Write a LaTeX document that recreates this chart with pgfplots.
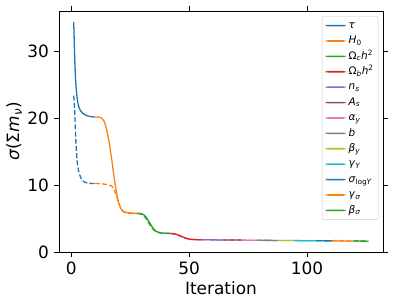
\documentclass[border=0pt]{standalone}
\usepackage{fontspec}
\setmainfont{DejaVu Sans}
\usepackage{pgfplots}
\pgfplotsset{compat=1.18}
\definecolor{C0}{HTML}{1F77B4}
\definecolor{C1}{HTML}{FF7F0E}
\definecolor{C2}{HTML}{2CA02C}
\definecolor{C3}{HTML}{D62728}
\definecolor{C4}{HTML}{9467BD}
\definecolor{C5}{HTML}{8C564B}
\definecolor{C6}{HTML}{E377C2}
\definecolor{C7}{HTML}{7F7F7F}
\definecolor{C8}{HTML}{BCBD22}
\definecolor{C9}{HTML}{17BECF}
\newcommand{\sub}[1]{\textsubscript{#1}}
\begin{document}
\begin{tikzpicture}
\begin{axis}[
  scale only axis, width=324bp, height=241bp,
  xmin=-5.25, xmax=132.25, ymin=0, ymax=36.06,
  xtick={0,50,100}, ytick={0,10,20,30},
  tick align=outside, major tick length=4.9bp,
  tick style={black, line width=0.8bp},
  axis line style={line width=0.8bp},
  /pgf/number format/assume math mode=true,
  tick label style={font=\fontsize{17}{20}\selectfont, inner sep=0pt},
  xticklabel style={yshift=-4.9bp},
  yticklabel style={xshift=-4.9bp},
  xlabel={Iteration},
  ylabel={\textit{σ}(Σ\textit{m}\sub{\textit{ν}})},
  every axis label/.append style={font=\fontsize{17}{20}\selectfont, inner sep=0pt},
  xlabel style={at={(axis description cs:0.5,-0.1784)}, anchor=base},
  ylabel style={at={(axis description cs:-0.1142,0.5)}, anchor=south, rotate=0},
  legend cell align=left,
  legend style={at={(0.9855,0.979)}, anchor=north east, draw=black!20, rounded corners=2pt,
    font=\fontsize{10.5}{12}\selectfont, row sep=2.8bp, inner xsep=3.5bp, inner ysep=3bp,
    nodes={inner sep=1bp, text height=8bp, text depth=2.6bp},
    /tikz/every odd column/.append style={column sep=2bp}},
  legend image code/.code={\fill[#1, draw=none] (0bp,-0.8bp) rectangle (20bp,0.8bp);},
  every axis plot/.append style={line width=1.3bp},
]
% solid
\addplot[C0] coordinates {(1,34.4)(1.25,31.0)(1.5,28.2)(1.75,26.0)(2,24.6)(2.5,22.8)(3,21.9)(3.5,21.4)(4,21.1)(5,20.7)(6,20.5)(7,20.35)(8,20.28)(9,20.22)(10,20.2)};
\addlegendentry{\textit{τ}}
\addplot[C1] coordinates {(10,20.2)(11,20.2)(12,20.15)(13,20.0)(14,19.5)(15,18.3)(16,16.5)(17,14.2)(18,11.5)(19,9.2)(20,7.4)(21,6.5)(22,6.1)(23,5.95)(24,5.88)(25,5.84)(26,5.82)(27,5.8)(28,5.8)};
\addlegendentry{\textit{H}\sub{0}}
\addplot[C2] coordinates {(28,5.8)(29,5.78)(30,5.7)(31,5.5)(32,5.1)(33,4.5)(34,3.9)(35,3.4)(36,3.1)(37,2.95)(38,2.87)(39,2.83)(40,2.8)(41,2.8)(42,2.78)};
\addlegendentry{Ω\sub{\textit{c}}\textit{h}\textsuperscript{2}}
\addplot[C3] coordinates {(42,2.78)(43,2.75)(44,2.7)(45,2.6)(46,2.45)(47,2.3)(48,2.15)(49,2.02)(50,1.94)(51,1.89)(52,1.87)(53,1.85)(54,1.84)(55.3,1.84)};
\addlegendentry{Ω\sub{\textit{b}}\textit{h}\textsuperscript{2}}
\addplot[C4] coordinates {(55.3,1.84)(59,1.82)(64.1,1.80)};
\addlegendentry{\textit{n}\sub{\textit{s}}}
\addplot[C5] coordinates {(64.1,1.80)(68,1.79)(71.9,1.78)};
\addlegendentry{\textit{A}\sub{\textit{s}}}
\addplot[C6] coordinates {(71.9,1.78)(75,1.77)(78.8,1.76)};
\addlegendentry{\textit{α}\sub{\textit{y}}}
\addplot[C7] coordinates {(78.8,1.76)(83,1.74)(87.9,1.73)};
\addlegendentry{\textit{b}}
\addplot[C8] coordinates {(87.9,1.73)(91,1.72)(94.4,1.71)};
\addlegendentry{\textit{β}\sub{\textit{y}}}
\addplot[C9] coordinates {(94.4,1.71)(99,1.69)(104,1.68)};
\addlegendentry{\textit{γ}\sub{\textit{Y}}}
\addplot[C0] coordinates {(104,1.68)(107,1.67)(110.5,1.66)};
\addlegendentry{\textit{σ}\sub{log\textit{Y}}}
\addplot[C1] coordinates {(110.5,1.66)(115,1.65)(119.7,1.64)};
\addlegendentry{\textit{γ}\sub{\textit{σ}}}
\addplot[C2] coordinates {(119.7,1.64)(123,1.63)(126,1.62)};
\addlegendentry{\textit{β}\sub{\textit{σ}}}
% dashed
\addplot[C0, dash pattern=on 5bp off 2.2bp, forget plot] coordinates {(1,23.4)(1.25,22.2)(1.5,20.2)(1.75,17.8)(2,15.9)(2.5,13.3)(3,12.2)(3.5,11.6)(4,11.1)(5,10.6)(6,10.4)(7,10.3)(8,10.27)(9,10.25)(10,10.25)};
\addplot[C1, dash pattern=on 5bp off 2.2bp, forget plot] coordinates {(10,10.25)(11,10.25)(12,10.22)(13,10.2)(14,10.15)(15,10.1)(16,10.0)(17,9.9)(18,9.5)(19,8.6)(20,7.4)(21,6.5)(22,6.05)(23,5.88)(24,5.8)(26,5.77)(28,5.75)};
\addplot[C2, dash pattern=on 5bp off 2.2bp, forget plot] coordinates {(28,5.75)(29,5.72)(30,5.62)(31,5.35)(32,4.85)(33,4.25)(34,3.7)(35,3.28)(36,3.03)(37,2.9)(38,2.84)(40,2.8)(42,2.77)};
\addplot[C3, dash pattern=on 5bp off 2.2bp, forget plot] coordinates {(42,2.77)(43,2.74)(44,2.68)(45,2.57)(46,2.42)(47,2.26)(48,2.12)(49,2.0)(50,1.93)(51,1.88)(52,1.86)(54,1.84)(55.3,1.83)};
\addplot[C4, dash pattern=on 5bp off 2.2bp, forget plot] coordinates {(55.3,1.83)(59,1.82)(64.1,1.80)};
\addplot[C5, dash pattern=on 5bp off 2.2bp, forget plot] coordinates {(64.1,1.80)(68,1.79)(71.9,1.78)};
\addplot[C6, dash pattern=on 5bp off 2.2bp, forget plot] coordinates {(71.9,1.78)(75,1.77)(78.8,1.76)};
\addplot[C7, dash pattern=on 5bp off 2.2bp, forget plot] coordinates {(78.8,1.76)(83,1.74)(87.9,1.73)};
\addplot[C8, dash pattern=on 5bp off 2.2bp, forget plot] coordinates {(87.9,1.73)(91,1.72)(94.4,1.71)};
\addplot[C9, dash pattern=on 5bp off 2.2bp, forget plot] coordinates {(94.4,1.71)(99,1.70)(104,1.69)};
\addplot[C0, dash pattern=on 5bp off 2.2bp, forget plot] coordinates {(104,1.69)(107,1.68)(110.5,1.68)};
\addplot[C1, dash pattern=on 5bp off 2.2bp, forget plot] coordinates {(110.5,1.68)(112,1.72)(115,1.66)(119.7,1.64)};
\addplot[C2, dash pattern=on 5bp off 2.2bp, forget plot] coordinates {(119.7,1.64)(123,1.63)(126,1.62)};
\end{axis}
\pgfresetboundingbox
\path[use as bounding box] ([shift={(-59bp,-54bp)}]current axis.south west) rectangle ([shift={(12bp,11bp)}]current axis.north east);
\end{tikzpicture}
\end{document}
